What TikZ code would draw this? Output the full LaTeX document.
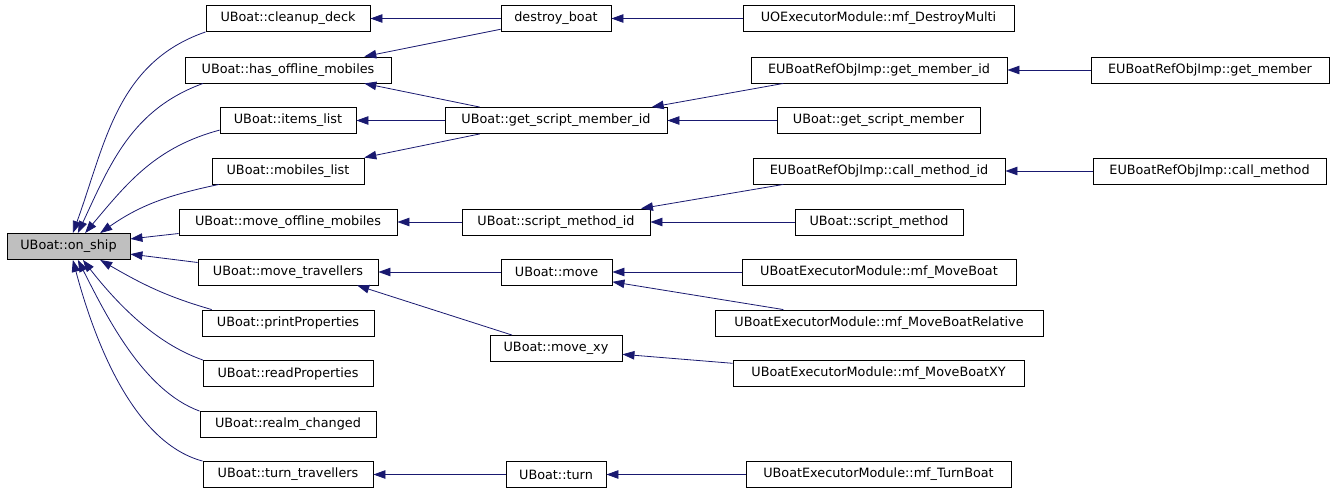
\documentclass[tikz,border=0pt]{standalone}
\usepackage{fontspec}
\setmainfont{DejaVu Sans}
\usetikzlibrary{arrows.meta}
\definecolor{edgeblue}{RGB}{25,25,112}
\definecolor{hilite}{RGB}{191,191,191}
\tikzset{
  >={Triangle[length=12pt,width=8.5pt]},
  fn/.style={draw=black,line width=0.9pt,fill=white,minimum height=26pt,
    inner sep=0pt,font=\fontsize{12.8}{15}\selectfont},
  call/.style={->,draw=edgeblue,line width=0.8pt},
}

\begin{document}
\begin{tikzpicture}[x=1pt,y=1pt]
  \useasboundingbox (0,0) rectangle (1333,-493);
  \node[fn,fill=hilite,minimum width=123pt] (onship) at (68.5,-246.5) {UBoat::on\_ship};
  % callers of on_ship, then their callers
  \foreach \n/\x/\y/\w/\t in {
      cleanup/288/18.5/164/UBoat::cleanup\_deck,
      hasoff/288/70/206/UBoat::has\_offline\_mobiles,
      items/288/120.5/136/UBoat::items\_list,
      mobiles/288/171/152/UBoat::mobiles\_list,
      moveoff/288/222/218/UBoat::move\_offline\_mobiles,
      movetrav/288/272/180/UBoat::move\_travellers,
      print/288/323/172/UBoat::printProperties,
      read/288/373.5/170/UBoat::readProperties,
      realm/288/424.5/176/UBoat::realm\_changed,
      turntrav/288/474.5/170/UBoat::turn\_travellers,
      destroy/556/18.5/110/destroy\_boat,
      gsmi/556/120.5/222/UBoat::get\_script\_member\_id,
      smi/556/222/188/UBoat::script\_method\_id,
      move/556.5/272/111/UBoat::move,
      movexy/556/348.5/132/UBoat::move\_xy,
      turn/556/474.5/100/UBoat::turn,
      destroymulti/878.5/18.5/271/UOExecutorModule::mf\_DestroyMulti,
      getmemberid/879/70/256/EUBoatRefObjImp::get\_member\_id,
      getscriptmember/878.5/120.5/203/UBoat::get\_script\_member,
      callmethodid/879/171/252/EUBoatRefObjImp::call\_method\_id,
      scriptmethod/879/222/168/UBoat::script\_method,
      moveboat/879/272/274/UBoatExecutorModule::mf\_MoveBoat,
      moveboatrel/879/323/328/UBoatExecutorModule::mf\_MoveBoatRelative,
      moveboatxy/878.5/373.5/291/UBoatExecutorModule::mf\_MoveBoatXY,
      turnboat/878.5/474.5/265/UBoatExecutorModule::mf\_TurnBoat,
      getmember/1210/70/238/EUBoatRefObjImp::get\_member,
      callmethod/1209.5/171/233/EUBoatRefObjImp::call\_method}{
    \node[fn,minimum width=\w pt] (\n) at (\x,-\y) {\t};
  }
  % fan into on_ship
  \draw[call] (cleanup.south west) to[out=199,in=70] (onship.72);
  \draw[call] (hasoff.189) to[out=200,in=65] (onship.55);
  \draw[call] (items.188) to[out=195,in=50] (onship.39);
  \draw[call] (mobiles.191) to[out=192,in=35] (onship.23);
  \draw[call] (moveoff.186) -- (onship.7);
  \draw[call] (movetrav.174) -- (onship.353);
  \draw[call] (print.170) to[out=164,in=-30] (onship.337);
  \draw[call] (read.171) to[out=161,in=-52,looseness=0.85] (onship.317);
  \draw[call] (realm.north west) to[out=160,in=-63,looseness=0.8] (onship.305);
  \draw[call] (turntrav.north west) to[out=165,in=-75,looseness=0.8] (onship.288);
  % second level
  \draw[call] (destroy) -- (cleanup);
  \draw[call] (destroy.191) -- (hasoff.10);
  \draw[call] (gsmi.170) -- (hasoff.350);
  \draw[call] (gsmi) -- (items);
  \draw[call] (gsmi.190) -- (mobiles.10);
  \draw[call] (smi) -- (moveoff);
  \draw[call] (move) -- (movetrav);
  \draw[call] (movexy.163) -- (movetrav.349);
  \draw[call] (turn) -- (turntrav);
  % third level
  \draw[call] (destroymulti) -- (destroy);
  \draw[call] (getmemberid.188) -- (gsmi.8);
  \draw[call] (getscriptmember) -- (gsmi);
  \draw[call] (callmethodid.188) -- (smi.9);
  \draw[call] (scriptmethod) -- (smi);
  \draw[call] (moveboat) -- (move);
  \draw[call] (moveboatrel.172) -- (move.350);
  \draw[call] (moveboatxy.176) -- (movexy.355);
  \draw[call] (turnboat) -- (turn);
  % fourth level
  \draw[call] (getmember) -- (getmemberid);
  \draw[call] (callmethod) -- (callmethodid);
\end{tikzpicture}
\end{document}
